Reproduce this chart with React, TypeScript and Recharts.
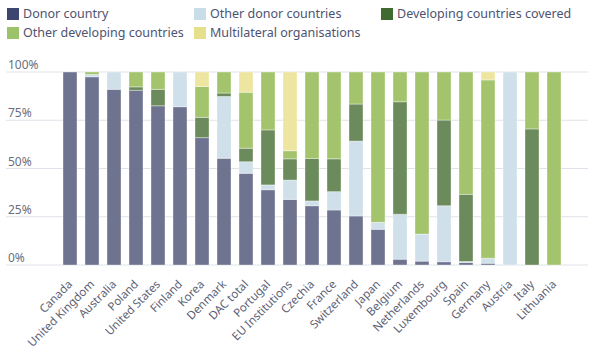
import React from 'react';
import { BarChart, Bar, XAxis, YAxis, CartesianGrid } from 'recharts';

// Share of each donor's spending, by who provides the goods/services
const countries = [
  'Canada', 'United Kingdom', 'Australia', 'Poland', 'United States', 'Finland',
  'Korea', 'Denmark', 'DAC total', 'Portugal', 'EU Institutions', 'Czechia',
  'France', 'Switzerland', 'Japan', 'Belgium', 'Netherlands', 'Luxembourg',
  'Spain', 'Germany', 'Austria', 'Italy', 'Lithuania',
];
const donorCountry = [100, 97.5, 91, 90.5, 82.5, 82, 66, 55.3, 47.5, 39, 34, 30.7, 28.5, 25.4, 18.5, 3, 2, 1.7, 1.3, 0.9, 0, 0, 0];
const otherDonors = [0, 1.2, 9, 0, 0, 18, 0, 32, 6, 2.5, 10, 2.5, 9.5, 38.8, 3.6, 23.3, 14, 29, 0.5, 2.6, 100, 0, 0];
const devCovered = [0, 0, 0, 1.8, 8.5, 0, 10.5, 1.8, 7, 28.5, 11, 22, 17, 19.2, 0, 58.3, 0, 44.4, 34.8, 0, 0, 70.5, 0];
const otherDeveloping = [0, 1.3, 0, 7.7, 9, 0, 16, 10.9, 29, 30, 4.2, 44.8, 45, 16.6, 77.9, 15.4, 84, 24.9, 63.4, 92.4, 0, 29.5, 100];
const multilateral = [0, 0, 0, 0, 0, 0, 7.5, 0, 10.5, 0, 40.8, 0, 0, 0, 0, 0, 0, 0, 0, 4.1, 0, 0, 0];
const yTicks = [0, 0.25, 0.5, 0.75, 1];

const data = countries.map((name, i) => ({
  name,
  donor: donorCountry[i],
  otherDonor: otherDonors[i],
  covered: devCovered[i],
  otherDev: otherDeveloping[i],
  multi: multilateral[i],
}));

const series = [
  { key: 'donor', label: 'Donor country', bar: '#6e7490', swatch: '#3c4670' },
  { key: 'otherDonor', label: 'Other donor countries', bar: '#cfe0ea', swatch: '#c9dde8' },
  { key: 'covered', label: 'Developing countries covered', bar: '#6c8b5c', swatch: '#3f6a30' },
  { key: 'otherDev', label: 'Other developing countries', bar: '#a3c46d', swatch: '#9cc369' },
  { key: 'multi', label: 'Multilateral organisations', bar: '#ede5a0', swatch: '#e6df8c' },
];

const FONT = '"Noto Sans", "Open Sans", sans-serif';

const LegendBox = () => (
  <div
    style={{
      position: 'absolute', left: 7, top: 7, width: 580,
      display: 'flex', flexWrap: 'wrap', rowGap: 6,
      fontFamily: FONT, fontSize: 12.5, color: '#4d5370',
    }}
  >
    {series.map((s) => (
      <div key={s.key} style={{ width: 187, display: 'flex', alignItems: 'center', height: 13 }}>
        <span style={{ width: 12, height: 12, background: s.swatch, marginRight: 4, flex: 'none' }} />
        <span style={{ whiteSpace: 'nowrap' }}>{s.label}</span>
      </div>
    ))}
  </div>
);

// y labels sit left-aligned above each gridline
const YTick = (props: any) => (
  <text x={8} y={props.y - 3} fill="#6b6e7d" fontSize={12} fontFamily={FONT} textAnchor="start">
    {`${Math.round(props.payload.value * 100)}%`}
  </text>
);

const XTick = (props: any) => (
  <g transform={`translate(${props.x + 3},${props.y + 12})`}>
    <text transform="rotate(-45)" textAnchor="end" fill="#5d6175" fontSize={11.5} fontFamily={FONT}>
      {props.payload.value}
    </text>
  </g>
);

export default function App() {
  return (
    <div style={{ position: 'absolute', left: 0, top: 0, width: 600, height: 356, background: '#fff' }}>
      <LegendBox />
      <BarChart
        width={600}
        height={356}
        data={data}
        stackOffset="expand"
        barSize={14}
        margin={{ top: 72, right: 12, bottom: 0, left: -24 }}
      >
        <CartesianGrid vertical={false} stroke="#dfe2ea" />
        <XAxis
          dataKey="name"
          interval={0}
          height={91}
          axisLine={false}
          tickLine={false}
          padding={{ left: 53, right: 23 }}
          tick={<XTick />}
        />
        <YAxis
          width={30}
          domain={[0, 1]}
          ticks={yTicks}
          interval={0}
          axisLine={false}
          tickLine={false}
          tick={<YTick />}
        />
        {series.map((s) => (
          <Bar
            key={s.key}
            dataKey={s.key}
            stackId="a"
            fill={s.bar}
            stroke="#ffffff"
            strokeOpacity={0.45}
            strokeWidth={0.8}
            isAnimationActive={false}
          />
        ))}
      </BarChart>
    </div>
  );
}
